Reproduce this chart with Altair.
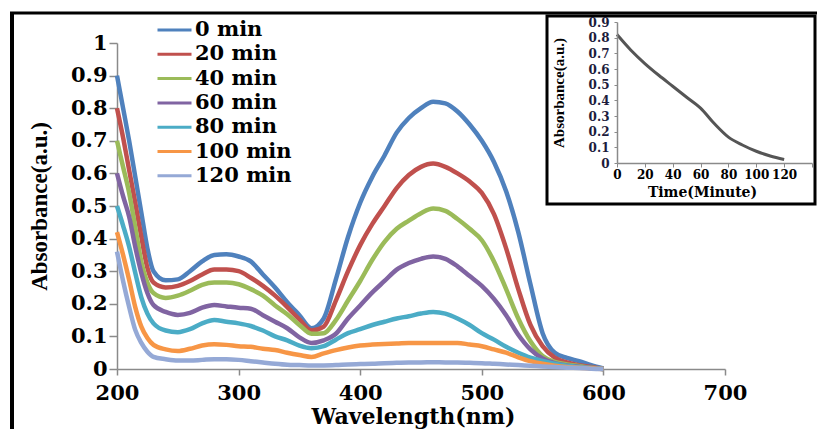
import altair as alt
import pandas as pd

# ---------------- data ----------------
wavelength = [200, 205, 210, 215, 220, 225, 230, 240, 250, 260, 270, 280, 290, 300,
              310, 320, 330, 340, 350, 360, 370, 380, 390, 400, 410, 420, 430, 440,
              450, 460, 470, 480, 490, 500, 510, 520, 530, 540, 550, 560, 570, 580,
              590, 600]

series_names = ["0 min", "20 min", "40 min", "60 min", "80 min", "100 min", "120 min"]
series_colors = ["#4F81BD", "#C0504D", "#9BBB59", "#8064A2", "#4BACC6", "#F79646", "#95A9D6"]

abs_0 = [0.90, 0.80, 0.70, 0.59, 0.48, 0.37, 0.30, 0.272, 0.275, 0.30, 0.33, 0.35, 0.352, 0.345,
         0.33, 0.29, 0.25, 0.205, 0.165, 0.125, 0.155, 0.275, 0.405, 0.51, 0.59, 0.655, 0.725, 0.77,
         0.80, 0.82, 0.815, 0.79, 0.75, 0.70, 0.635, 0.545, 0.42, 0.26, 0.11, 0.05, 0.034, 0.024,
         0.012, 0.002]
abs_20 = [0.80, 0.71, 0.61, 0.51, 0.405, 0.31, 0.265, 0.25, 0.255, 0.27, 0.29, 0.305, 0.305, 0.30,
          0.28, 0.255, 0.225, 0.19, 0.152, 0.118, 0.13, 0.21, 0.30, 0.38, 0.445, 0.50, 0.555, 0.595,
          0.62, 0.63, 0.62, 0.60, 0.575, 0.54, 0.475, 0.37, 0.245, 0.135, 0.07, 0.035, 0.02, 0.012,
          0.006, 0.0]
abs_40 = [0.70, 0.62, 0.54, 0.435, 0.33, 0.265, 0.233, 0.218, 0.225, 0.24, 0.258, 0.265, 0.265, 0.26,
          0.245, 0.225, 0.195, 0.168, 0.135, 0.108, 0.11, 0.15, 0.21, 0.27, 0.335, 0.39, 0.43, 0.455,
          0.478, 0.492, 0.485, 0.46, 0.43, 0.395, 0.33, 0.245, 0.155, 0.085, 0.04, 0.022, 0.014, 0.009,
          0.004, 0.0]
abs_60 = [0.60, 0.53, 0.467, 0.375, 0.295, 0.233, 0.196, 0.175, 0.166, 0.172, 0.188, 0.196, 0.192, 0.188,
          0.185, 0.165, 0.145, 0.125, 0.097, 0.08, 0.088, 0.108, 0.155, 0.195, 0.235, 0.27, 0.305, 0.325,
          0.338, 0.345, 0.338, 0.315, 0.285, 0.255, 0.215, 0.165, 0.105, 0.06, 0.032, 0.018, 0.011, 0.007,
          0.003, 0.0]
abs_80 = [0.50, 0.44, 0.375, 0.295, 0.22, 0.17, 0.14, 0.118, 0.113, 0.122, 0.14, 0.15, 0.145, 0.14,
          0.132, 0.118, 0.10, 0.088, 0.072, 0.064, 0.07, 0.09, 0.11, 0.122, 0.135, 0.145, 0.155, 0.162,
          0.17, 0.175, 0.17, 0.155, 0.135, 0.11, 0.09, 0.068, 0.05, 0.035, 0.025, 0.016, 0.01, 0.006,
          0.003, 0.0]
abs_100 = [0.42, 0.35, 0.273, 0.19, 0.13, 0.095, 0.074, 0.06, 0.055, 0.062, 0.072, 0.076, 0.074, 0.07,
           0.068, 0.062, 0.058, 0.05, 0.043, 0.037, 0.048, 0.058, 0.066, 0.072, 0.075, 0.077, 0.078, 0.08,
           0.08, 0.08, 0.08, 0.08, 0.075, 0.07, 0.06, 0.05, 0.036, 0.024, 0.016, 0.01, 0.006, 0.004,
           0.002, 0.0]
abs_120 = [0.36, 0.27, 0.19, 0.12, 0.08, 0.053, 0.037, 0.03, 0.026, 0.026, 0.028, 0.03, 0.03, 0.028,
           0.024, 0.02, 0.016, 0.013, 0.012, 0.011, 0.011, 0.012, 0.014, 0.015, 0.016, 0.018, 0.019, 0.02,
           0.02, 0.021, 0.02, 0.02, 0.019, 0.018, 0.016, 0.014, 0.012, 0.01, 0.008, 0.006, 0.004, 0.003,
           0.001, 0.0]

x_ticks = [200, 300, 400, 500, 600, 700]
y_ticks = [0, 0.1, 0.2, 0.3, 0.4, 0.5, 0.6, 0.7, 0.8, 0.9, 1.0]

# inset: absorbance at the band maximum versus time
inset_time = [0, 10, 20, 30, 40, 50, 60, 70, 80, 90, 100, 110, 120]
inset_abs = [0.82, 0.72, 0.635, 0.56, 0.49, 0.42, 0.35, 0.25, 0.165, 0.115, 0.075, 0.045, 0.022]
inset_x_ticks = [0, 20, 40, 60, 80, 100, 120, 140]
inset_y_ticks = [0, 0.1, 0.2, 0.3, 0.4, 0.5, 0.6, 0.7, 0.8, 0.9]

all_series = [abs_0, abs_20, abs_40, abs_60, abs_80, abs_100, abs_120]
rows = []
for name, vals in zip(series_names, all_series):
    for w, a in zip(wavelength, vals):
        rows.append({"wl": w, "A": a, "series": name})
df_main = pd.DataFrame(rows)
df_inset = pd.DataFrame({"t": inset_time, "A": inset_abs})
df_one = pd.DataFrame({"k": [0]})

SERIF_W = "DejaVu Serif"
SERIF = "Liberation Serif"
AX = "#8a8a8a"

# ---------------- decorations ----------------
frame_left = alt.Chart(df_one).mark_rule(color="black", strokeWidth=4).encode(
    x=alt.value(-105), y=alt.value(-30), y2=alt.value(390))
frame_top = alt.Chart(df_one).mark_rule(color="black", strokeWidth=3).encode(
    x=alt.value(-107), x2=alt.value(700), y=alt.value(-30))
inset_box = alt.Chart(df_one).mark_rect(fill="white", stroke="black", strokeWidth=3).encode(
    x=alt.value(430), x2=alt.value(698), y=alt.value(-27), y2=alt.value(161))

# ---------------- main spectra ----------------
main = alt.Chart(df_main).mark_line(strokeWidth=4.5, interpolate="monotone").encode(
    x=alt.X("wl:Q", scale=alt.Scale(domain=[200, 700], nice=False),
            axis=alt.Axis(values=x_ticks, format="d", grid=False, labelFlush=False,
                          labelOverlap=False,
                          labelFont=SERIF_W, labelFontWeight="bold", labelFontSize=21,
                          labelColor="black", tickColor=AX, domainColor=AX, tickSize=6,
                          domainWidth=1.5, tickWidth=1.5, labelPadding=7,
                          title="Wavelength(nm)", titleFont=SERIF_W, titleFontSize=22,
                          titleFontWeight="bold", titleColor="black", titlePadding=3,
                          titleX=296)),
    y=alt.Y("A:Q", scale=alt.Scale(domain=[0, 1], nice=False),
            axis=alt.Axis(values=y_ticks, format=".1~f", grid=False, labelFlush=False,
                          labelOverlap=False,
                          labelFont=SERIF_W, labelFontWeight="bold", labelFontSize=21,
                          labelColor="black", tickColor=AX, domainColor=AX, tickSize=8,
                          domainWidth=1.5, tickWidth=1.5, labelPadding=2,
                          title="Absorbance(a.u.)", titleFont=SERIF, titleFontSize=23,
                          titleFontWeight="bold", titleColor="black", titlePadding=19)),
    color=alt.Color("series:N", sort=series_names,
                    scale=alt.Scale(domain=series_names, range=series_colors),
                    legend=alt.Legend(orient="none", legendX=39, legendY=-25, title=None,
                                      symbolType="stroke", symbolStrokeWidth=3,
                                      symbolSize=1156, labelFont=SERIF_W,
                                      labelFontWeight="bold", labelFontSize=21,
                                      labelColor="black", rowPadding=0.3, padding=0,
                                      clipHeight=24, labelOffset=2)),
    order=alt.Order("wl:Q"),
)

# ---------------- inset ----------------
inset = alt.Chart(df_inset).mark_line(color="#555555", strokeWidth=3, interpolate="monotone").encode(
    x=alt.X("t:Q", scale=alt.Scale(domain=[0, 140], range=[500, 695], nice=False),
            axis=alt.Axis(orient="bottom", offset=-206, values=inset_x_ticks, format="d",
                          labelExpr="datum.value == 140 ? '' : datum.label", grid=False,
                          labelFlush=False, labelOverlap=False, zindex=2,
                          labelFont=SERIF_W, labelFontWeight="bold", labelFontSize=12,
                          labelColor="black", tickColor=AX, domainColor=AX, tickSize=4,
                          domainWidth=1.5, labelPadding=2,
                          title="Time(Minute)", titleFont=SERIF_W, titleFontSize=14,
                          titleFontWeight="bold", titleColor="black", titlePadding=5,
                          titleX=585)),
    y=alt.Y("A:Q", scale=alt.Scale(domain=[0, 0.9], range=[120, -21], nice=False),
            axis=alt.Axis(orient="left", offset=-500, values=inset_y_ticks, format=".1~f",
                          grid=False, labelFlush=False, labelOverlap=False, zindex=2,
                          labelFont=SERIF_W, labelFontWeight="bold",
                          labelFontSize=12, labelColor="#1c1c3c", tickColor=AX,
                          domainColor=AX, tickSize=3, domainWidth=1.5, labelPadding=5,
                          title="Absorbance(a.u.)", titleFont=SERIF, titleFontSize=15,
                          titleFontWeight="bold", titleColor="black", titlePadding=22)),
)

chart = alt.layer(frame_left, frame_top, inset_box, main, inset).resolve_scale(
    x="independent", y="independent", color="independent"
).properties(
    width=608, height=326,
    autosize=alt.AutoSizeParams(type="none"),
    padding={"left": 109, "top": 35, "right": 92, "bottom": 60},
    background="white",
).configure_view(stroke=None)

chart.save("out.html", embed_options={"renderer": "svg", "actions": False})
